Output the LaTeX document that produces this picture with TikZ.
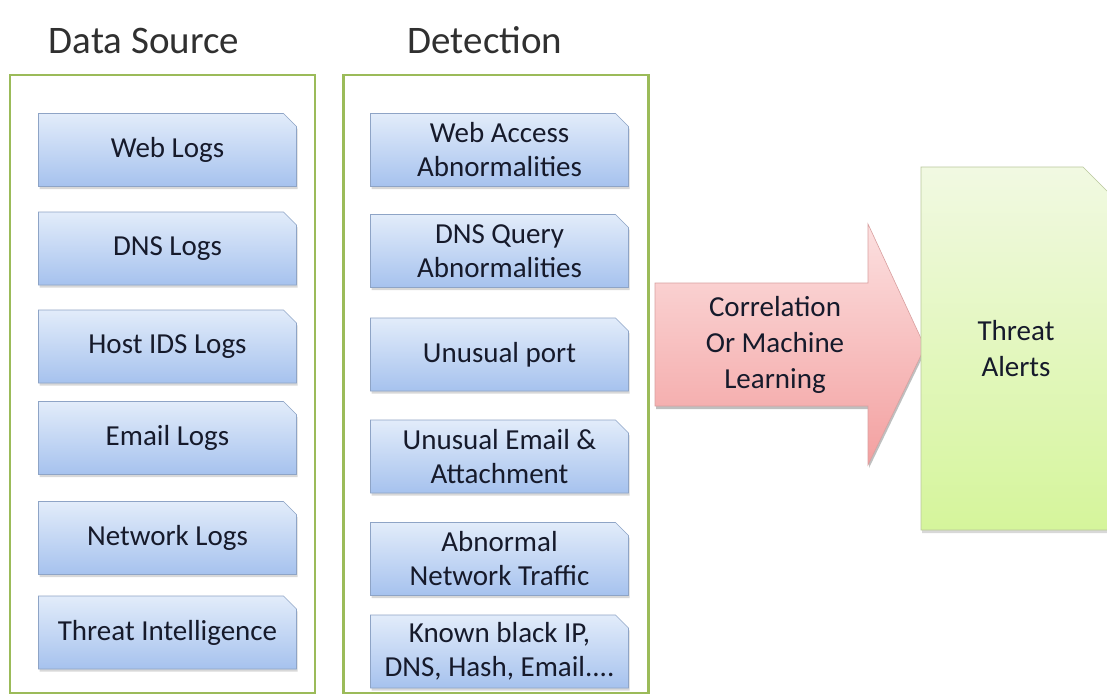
\documentclass[tikz,border=0pt]{standalone}
\usepackage{fontspec}
\setmainfont{Carlito}
\usetikzlibrary{shapes.misc,shadows}
\definecolor{frameg}{HTML}{9BBB59}
\definecolor{bluetop}{HTML}{E2ECFA}
\definecolor{bluebot}{HTML}{A6C2EE}
\definecolor{blueline}{HTML}{8EA4C6}
\definecolor{boxtext}{HTML}{161A2B}
\definecolor{pinktop}{HTML}{FCE0E0}
\definecolor{pinkbot}{HTML}{F3A0A0}
\definecolor{pinkline}{HTML}{D9A0A0}
\definecolor{greentop}{HTML}{F1F9E2}
\definecolor{greenbot}{HTML}{D5F59B}
\definecolor{greenline}{HTML}{B9C79C}
\definecolor{titlec}{HTML}{303030}
\begin{document}
\begin{tikzpicture}[x=1pt,y=-1pt,
  frame/.style={draw=frameg, line width=2.4pt, minimum width=305pt, minimum height=618pt, inner sep=0pt},
  title/.style={font=\fontsize{39}{44}\selectfont, text=titlec, anchor=base, inner sep=0pt},
  box/.style={chamfered rectangle, chamfered rectangle corners=north east,
    chamfered rectangle xsep=6.5pt, chamfered rectangle ysep=6.5pt,
    draw=blueline, line width=0.6pt, top color=bluetop, bottom color=bluebot,
    minimum width=258pt, minimum height=73pt, inner sep=0pt, align=center,
    font=\fontsize{29}{34}\selectfont, text=boxtext,
    drop shadow={shadow xshift=1pt, shadow yshift=-2.5pt, opacity=0.3}},
  arrowtext/.style={align=center, font=\fontsize{29}{36}\selectfont, text=boxtext, inner sep=0pt},
  alertbox/.style={chamfered rectangle, chamfered rectangle corners=north east,
    chamfered rectangle xsep=14pt, chamfered rectangle ysep=14pt,
    draw=greenline, line width=0.6pt, top color=greentop, bottom color=greenbot,
    minimum width=190pt, minimum height=363pt, inner sep=0pt, align=center,
    font=\fontsize{29}{36}\selectfont, text=boxtext,
    drop shadow={shadow xshift=1pt, shadow yshift=-3pt, opacity=0.3}}
]
\useasboundingbox (0,0) rectangle (1107,696);
\fill[white] (0,0) rectangle (1107,696);

% frames
\node[frame] (dsframe) at (162.5,384) {};
\node[frame] (detframe) at (496,384) {};

% titles
\node[title] (dstitle) at (144,53) {Data Source};
\node[title] (dettitle) at (485,53) {Detection};

% data source boxes
\node[box] (web) at (167.5,150) {Web Logs};
\node[box] (dns) at (167.5,248.5) {DNS Logs};
\node[box] (host) at (167.5,346.5) {Host IDS Logs};
\node[box] (email) at (167.5,438) {Email Logs};
\node[box] (net) at (167.5,538) {Network Logs};
\node[box] (ti) at (167.5,632.5) {Threat Intelligence};

% detection boxes
\node[box] (dweb) at (499.5,150) {Web Access\\Abnormalities};
\node[box] (ddns) at (499.5,251) {DNS Query\\Abnormalities};
\node[box] (dport) at (499.5,354.5) {Unusual port};
\node[box] (demail) at (499.5,456.5) {Unusual Email \&\\Attachment};
\node[box] (dnet) at (499.5,559) {Abnormal\\Network Traffic};
\node[box] (dknown) at (499.5,651.5) {Known black IP,\\DNS, Hash, Email....};

% big arrow
\fill[black, opacity=0.25] (656,286) -- (869,286) -- (869,227) -- (926,350) -- (869,468) -- (869,409) -- (656,409) -- cycle;
\shade[top color=pinktop, bottom color=pinkbot, draw=pinkline, line width=0.6pt]
  (655,283) -- (868,283) -- (868,224) -- (925,347) -- (868,465) -- (868,406) -- (655,406) -- cycle;
\node[arrowtext] (corr) at (775,345) {Correlation\\Or Machine\\Learning};

% threat alerts
\node[alertbox] (alerts) at (1016,348.5) {Threat\\Alerts};
\end{tikzpicture}
\end{document}
